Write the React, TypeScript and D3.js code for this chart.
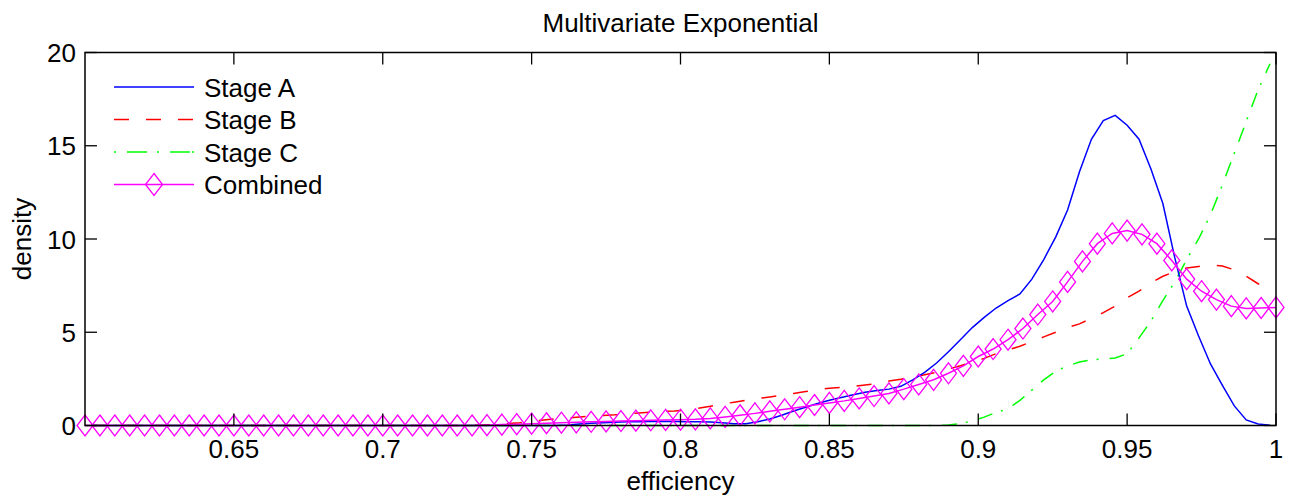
import React from "react";
import * as d3 from "d3";

const title = "Multivariate Exponential";
const xLabel = "efficiency";
const yLabel = "density";
const xTicks = [0.65, 0.7, 0.75, 0.8, 0.85, 0.9, 0.95, 1];
const xTickLabels = ["0.65", "0.7", "0.75", "0.8", "0.85", "0.9", "0.95", "1"];
const yTicks = [0, 5, 10, 15, 20];
const seriesNames = ["Stage A", "Stage B", "Stage C", "Combined"];

// bin centres 0.602 .. 0.998 (100 bins) for the three stages
const stageX = d3.range(100).map((k) => 0.602 + 0.004 * k);

const stageA = [
  0, 0, 0, 0, 0, 0, 0, 0, 0, 0,
  0, 0, 0, 0, 0, 0, 0, 0, 0, 0,
  0, 0, 0, 0, 0, 0, 0, 0, 0, 0,
  0, 0, 0, 0, 0, 0, 0, 0, 0, 0,
  0.03, 0.08, 0.12, 0.15, 0.18, 0.2, 0.2, 0.21, 0.21, 0.21,
  0.2, 0.2, 0.19, 0.15, 0.1, 0.1, 0.2, 0.35, 0.55, 0.78,
  0.98, 1.18, 1.35, 1.5, 1.65, 1.78, 1.88, 1.95, 2.1, 2.45,
  2.85, 3.35, 3.95, 4.6, 5.25, 5.8, 6.3, 6.7, 7.05, 7.85,
  8.9, 10.1, 11.55, 13.6, 15.35, 16.35, 16.63, 16.1, 15.35, 13.75,
  11.9, 9.0, 6.4, 4.8, 3.3, 2.15, 1.05, 0.3, 0.08, 0.02,
];

const stageB = [
  0, 0, 0, 0, 0, 0, 0, 0, 0, 0,
  0, 0, 0, 0, 0, 0, 0, 0, 0, 0,
  0, 0, 0, 0, 0, 0, 0, 0, 0, 0,
  0, 0, 0, 0.03, 0.06, 0.1, 0.15, 0.22, 0.3, 0.35,
  0.4, 0.45, 0.5, 0.54, 0.57, 0.62, 0.67, 0.71, 0.75, 0.78,
  0.83, 0.93, 1.03, 1.15, 1.25, 1.35, 1.45, 1.53, 1.62, 1.72,
  1.82, 1.92, 2.0, 2.05, 2.1, 2.17, 2.25, 2.38, 2.48, 2.6,
  2.72, 2.85, 3.03, 3.2, 3.4, 3.6, 3.85, 4.05, 4.25, 4.5,
  4.75, 5.0, 5.25, 5.45, 5.75, 6.05, 6.4, 6.85, 7.2, 7.65,
  8.0, 8.25, 8.45, 8.53, 8.6, 8.55, 8.35, 8.0, 7.6, 7.25,
];

const stageC = [
  0, 0, 0, 0, 0, 0, 0, 0, 0, 0,
  0, 0, 0, 0, 0, 0, 0, 0, 0, 0,
  0, 0, 0, 0, 0, 0, 0, 0, 0, 0,
  0, 0, 0, 0, 0, 0, 0, 0, 0, 0,
  0, 0, 0, 0, 0, 0, 0, 0, 0, 0,
  0, 0, 0, 0, 0, 0, 0, 0, 0, 0,
  0, 0, 0, 0, 0, 0, 0, 0, 0, 0,
  0, 0, 0.03, 0.1, 0.25, 0.45, 0.7, 0.9, 1.35, 1.9,
  2.45, 2.9, 3.2, 3.4, 3.52, 3.57, 3.62, 3.85, 4.7, 5.6,
  6.7, 7.7, 8.9, 10.0, 11.3, 12.9, 14.6, 16.3, 18.0, 19.4,
];

// combined density on 0.600 .. 1.000 step 0.005
const combinedX = d3.range(81).map((k) => 0.6 + 0.005 * k);
const combined = [
  0, 0, 0, 0, 0, 0, 0, 0, 0, 0,
  0, 0, 0, 0, 0, 0, 0, 0, 0, 0,
  0, 0, 0, 0, 0, 0, 0,
  0.02, 0.05, 0.07, 0.1, 0.12, 0.15, 0.17, 0.2, 0.22, 0.24,
  0.26, 0.28, 0.3, 0.31, 0.33, 0.38, 0.46, 0.55, 0.65, 0.76,
  0.87, 0.98, 1.1, 1.21, 1.32, 1.45, 1.58, 1.72, 1.95, 2.2,
  2.45, 2.8, 3.2, 3.7, 4.1, 4.6, 5.2, 5.95, 6.65, 7.7,
  8.8, 9.75, 10.3, 10.45, 10.25, 9.75, 8.85, 7.85, 7.2, 6.75,
  6.4, 6.28, 6.3, 6.33,
];

const W = 1291;
const H = 500;
const M = { left: 85, right: 1276, top: 52.5, bottom: 425.5 };
const FONT = "'Liberation Sans', Arial, Helvetica, sans-serif";
const FS = 26;
const TICK = 12;

const BLUE = "#0000ff";
const RED = "#ff0000";
const GREEN = "#00ff00";
const MAGENTA = "#ff00ff";

function diamond(cx: number, cy: number, hw = 8, hh = 10.5) {
  return `M${cx},${cy - hh}L${cx + hw},${cy}L${cx},${cy + hh}L${cx - hw},${cy}Z`;
}

export default function App() {
  const x = d3.scaleLinear().domain([0.6, 1]).range([M.left, M.right]);
  const y = d3.scaleLinear().domain([0, 20]).range([M.bottom, M.top]);

  const line = d3
    .line<[number, number]>()
    .x((d) => x(d[0]))
    .y((d) => y(d[1]));

  const zipS = (vals: number[]) => stageX.map((v, i) => [v, vals[i]] as [number, number]);
  const combPts = combinedX.map((v, i) => [v, combined[i]] as [number, number]);

  const legendY = [87, 119.5, 152, 184.5];
  const lx0 = 114;
  const lx1 = 194;

  return (
    <svg
      width={W}
      height={H}
      style={{ position: "absolute", left: 0, top: 0, background: "#fff" }}
      fontFamily={FONT}
    >
      <rect x={0} y={0} width={W} height={H} fill="#fff" />
      <defs>
        <clipPath id="plotclip">
          <rect x={M.left - 12} y={M.top - 12} width={M.right - M.left + 24} height={M.bottom - M.top + 24} />
        </clipPath>
      </defs>

      {/* series */}
      <g clipPath="url(#plotclip)">
        <path d={line(zipS(stageC)) || ""} fill="none" stroke={GREEN} strokeWidth={1.5} strokeDasharray="15,9,2,11" />
        <path d={line(zipS(stageB)) || ""} fill="none" stroke={RED} strokeWidth={1.5} strokeDasharray="15,17" />
        <path d={line(zipS(stageA)) || ""} fill="none" stroke={BLUE} strokeWidth={1.5} />
        <path d={line(combPts) || ""} fill="none" stroke={MAGENTA} strokeWidth={1.5} />
        {combPts.map((p, i) => (
          <path key={i} d={diamond(x(p[0]), y(p[1]))} fill="none" stroke={MAGENTA} strokeWidth={1.3} />
        ))}
      </g>

      {/* axes box */}
      <rect
        x={M.left}
        y={M.top}
        width={M.right - M.left}
        height={M.bottom - M.top}
        fill="none"
        stroke="#000"
        strokeWidth={1.5}
      />
      {xTicks.map((t, i) => (
        <g key={"xt" + i}>
          <line x1={x(t)} x2={x(t)} y1={M.bottom} y2={M.bottom - TICK} stroke="#000" strokeWidth={1.3} />
          <line x1={x(t)} x2={x(t)} y1={M.top} y2={M.top + TICK} stroke="#000" strokeWidth={1.3} />
          <text x={x(t)} y={458} textAnchor="middle" fontSize={FS} fill="#000">
            {xTickLabels[i]}
          </text>
        </g>
      ))}
      {yTicks.map((t, i) => (
        <g key={"yt" + i}>
          <line x1={M.left} x2={M.left + TICK} y1={y(t)} y2={y(t)} stroke="#000" strokeWidth={1.3} />
          <line x1={M.right} x2={M.right - TICK} y1={y(t)} y2={y(t)} stroke="#000" strokeWidth={1.3} />
          <text x={76} y={y(t) + 9.5} textAnchor="end" fontSize={FS} fill="#000">
            {String(t)}
          </text>
        </g>
      ))}

      {/* labels */}
      <text x={(M.left + M.right) / 2} y={32} textAnchor="middle" fontSize={FS} fill="#000">
        {title}
      </text>
      <text x={(M.left + M.right) / 2} y={490} textAnchor="middle" fontSize={FS} fill="#000">
        {xLabel}
      </text>
      <text
        transform={`translate(${31},${(M.top + M.bottom) / 2}) rotate(-90)`}
        textAnchor="middle"
        fontSize={FS}
        fill="#000"
      >
        {yLabel}
      </text>

      {/* legend */}
      <g>
        <line x1={lx0} x2={lx1} y1={legendY[0]} y2={legendY[0]} stroke={BLUE} strokeWidth={1.5} />
        <line x1={lx0} x2={lx1} y1={legendY[1]} y2={legendY[1]} stroke={RED} strokeWidth={1.5} strokeDasharray="15,17" />
        <line x1={lx0} x2={lx1} y1={legendY[2]} y2={legendY[2]} stroke={GREEN} strokeWidth={1.5} strokeDasharray="2,11,20,10,2,11,20" />
        <line x1={lx0} x2={lx1} y1={legendY[3]} y2={legendY[3]} stroke={MAGENTA} strokeWidth={1.5} />
        <path d={diamond((lx0 + lx1) / 2, legendY[3], 8.5, 11)} fill="none" stroke={MAGENTA} strokeWidth={1.3} />
        {seriesNames.map((n, i) => (
          <text key={n} x={204} y={legendY[i] + 9.5} fontSize={FS} fill="#000">
            {n}
          </text>
        ))}
      </g>
    </svg>
  );
}
